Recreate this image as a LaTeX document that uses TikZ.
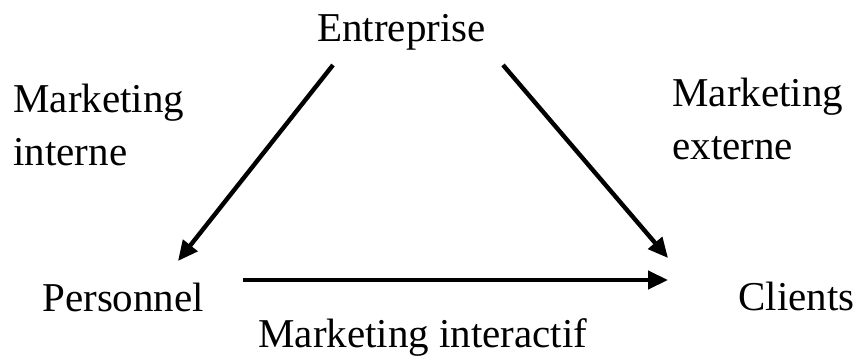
\documentclass[tikz,border=0pt]{standalone}
\usepackage{fontspec}
\setmainfont{Liberation Serif}
\usetikzlibrary{arrows.meta}

\tikzset{every picture/.style={line width=0.75pt}}
\tikzset{
    label text/.style={inner sep=0pt, anchor=base west, font=\fontsize{41}{49}\selectfont},
    flow/.style={line width=4.4pt, -{Triangle[length=20pt,width=18pt]}}
}

\begin{document}
\begin{tikzpicture}[x=1pt,y=1pt,yscale=-1,xscale=1]

    \useasboundingbox (0,0) rectangle (858,358);

    % the three parties
    \node[label text] (entreprise) at (317,42) {Entreprise};
    \node[label text] (personnel) at (42,311) {Personnel};
    \node[label text] (clients) at (738,310) {Clients};

    % marketing labels
    \node[label text] (interne1) at (13,113) {Marketing};
    \node[label text] (interne2) at (13,165) {interne};
    \node[label text] (externe1) at (672,107) {Marketing};
    \node[label text] (externe2) at (672,160) {externe};
    \node[label text] (interactif) at (258,347) {Marketing interactif};

    % arrow ends
    \coordinate (entL) at (333,65);
    \coordinate (entR) at (503,65);
    \coordinate (perTip) at (178,261);
    \coordinate (perOut) at (243,280);
    \coordinate (cliTop) at (668,258);
    \coordinate (cliLeft) at (668,280);

    \draw[flow] (entL) -- (perTip);
    \draw[flow] (entR) -- (cliTop);
    \draw[flow] (perOut) -- (cliLeft);

\end{tikzpicture}
\end{document}
